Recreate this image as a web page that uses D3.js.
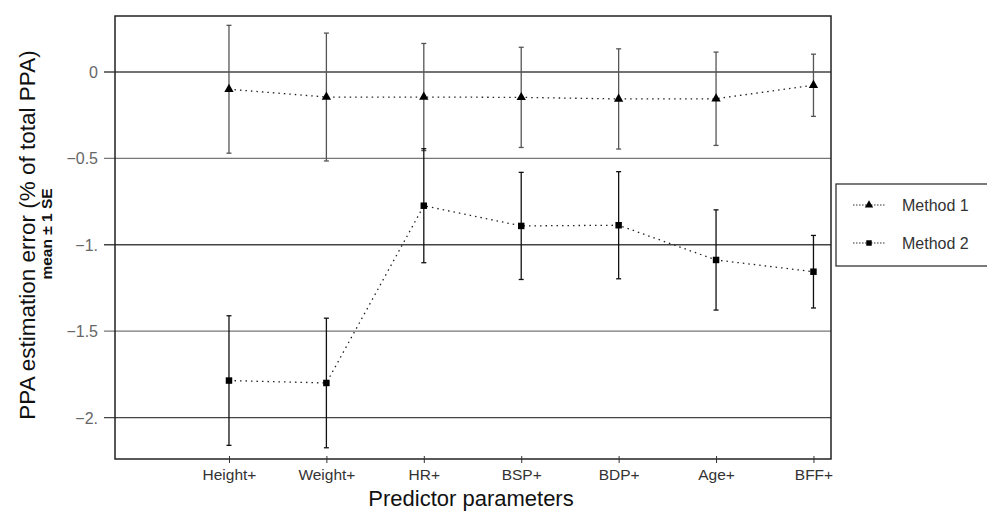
<html lang="en">
<head>
<style>
	body { margin: 0; background: #fff; }
	text { font-family: Arial, "Liberation Sans", sans-serif; }
</style>
</head>
<body>
<svg width="987" height="512"></svg>
<script src="https://d3js.org/d3.v7.min.js"></script>
<script>
	// data
	var categories = ["Height+", "Weight+", "HR+", "BSP+", "BDP+", "Age+", "BFF+"];
	var method1Mean = [-0.10, -0.145, -0.145, -0.147, -0.156, -0.155, -0.077];
	var method1SE   = [0.37, 0.37, 0.31, 0.29, 0.29, 0.27, 0.18];
	var method2Mean = [-1.786, -1.80, -0.774, -0.891, -0.887, -1.088, -1.156];
	var method2SE   = [0.375, 0.375, 0.33, 0.31, 0.31, 0.29, 0.21];
	var yTicks = [0, -0.5, -1, -1.5, -2];
	var yTickLabels = ["0", "\u22120.5", "\u22121.", "\u22121.5", "\u22122."];
	var seriesNames = ["Method 1", "Method 2"];

	var svg = d3.select("svg");
	var plotLeft = 115, plotRight = 831, plotTop = 16, plotBottom = 459;

	var x = d3.scaleLinear().domain([-1.17, 6.18]).range([plotLeft, plotRight]);
	var y = d3.scaleLinear().domain([-2.24, 0.324]).range([plotBottom, plotTop]);

	// gridlines
	svg.selectAll(".grid")
		.data(yTicks)
		.enter().append("line")
		.attr("x1", 104)
		.attr("x2", plotRight)
		.attr("y1", function(d) { return y(d); })
		.attr("y2", function(d) { return y(d); })
		.attr("stroke", function(d, i) { return i % 2 == 0 ? "#444" : "#777"; })
		.attr("stroke-width", 1.3);

	svg.selectAll(".ylab")
		.data(yTicks)
		.enter().append("text")
		.attr("x", 98)
		.attr("y", function(d) { return y(d) + 6; })
		.attr("text-anchor", "end")
		.attr("font-size", "16px")
		.attr("fill", "#666")
		.text(function(d, i) { return yTickLabels[i]; });

	// frame
	svg.append("rect")
		.attr("x", plotLeft).attr("y", plotTop)
		.attr("width", plotRight - plotLeft).attr("height", plotBottom - plotTop)
		.attr("fill", "none")
		.attr("stroke", "#222")
		.attr("stroke-width", 1.5);

	// x axis
	var xAxis = svg.append("g")
		.attr("transform", "translate(0," + plotBottom + ")")
		.call(d3.axisBottom(x)
			.tickValues(d3.range(categories.length))
			.tickFormat(function(i) { return categories[i]; })
			.tickSize(4)
			.tickSizeOuter(0));
	xAxis.select(".domain").remove();
	xAxis.selectAll("line").attr("stroke", "#333").attr("y1", -3);
	xAxis.selectAll("text")
		.attr("font-family", "Arial, 'Liberation Sans', sans-serif")
		.attr("font-size", "15.5px")
		.attr("fill", "#333")
		.attr("y", 21)
		.attr("dy", null);

	// axis titles
	svg.append("text")
		.attr("x", 471).attr("y", 506)
		.attr("text-anchor", "middle")
		.attr("font-size", "22px")
		.attr("fill", "#111")
		.text("Predictor parameters");

	svg.append("text")
		.attr("transform", "translate(35,235) rotate(-90)")
		.attr("text-anchor", "middle")
		.attr("font-size", "22.5px")
		.attr("fill", "#111")
		.text("PPA estimation error (% of total PPA)");

	svg.append("text")
		.attr("transform", "translate(52,234) rotate(-90)")
		.attr("text-anchor", "middle")
		.attr("font-size", "15.5px")
		.attr("font-weight", "bold")
		.attr("fill", "#111")
		.text("mean \u00b1 1 SE");

	var series = [
		{ name: seriesNames[0], mean: method1Mean, se: method1SE, barColor: "#555", shape: d3.symbolTriangle },
		{ name: seriesNames[1], mean: method2Mean, se: method2SE, barColor: "#111", shape: d3.symbolSquare }
	];

	var line = d3.line()
		.x(function(d, i) { return x(i); })
		.y(function(d) { return y(d); });

	series.forEach(function(s) {
		var g = svg.append("g");
		// error bars
		s.mean.forEach(function(m, i) {
			var hi = y(m + s.se[i]), lo = y(m - s.se[i]), cx = x(i);
			g.append("line").attr("x1", cx).attr("x2", cx).attr("y1", hi).attr("y2", lo)
				.attr("stroke", s.barColor).attr("stroke-width", 1.3);
			g.append("line").attr("x1", cx - 2.5).attr("x2", cx + 2.5).attr("y1", hi).attr("y2", hi)
				.attr("stroke", s.barColor).attr("stroke-width", 1.3);
			g.append("line").attr("x1", cx - 2.5).attr("x2", cx + 2.5).attr("y1", lo).attr("y2", lo)
				.attr("stroke", s.barColor).attr("stroke-width", 1.3);
		});
		g.append("path")
			.datum(s.mean)
			.attr("d", line)
			.attr("fill", "none")
			.attr("stroke", "#222")
			.attr("stroke-width", 1.3)
			.attr("stroke-dasharray", "1.5,4");
		g.selectAll(".pt")
			.data(s.mean)
			.enter().append("path")
			.attr("transform", function(d, i) { return "translate(" + x(i) + "," + y(d) + ")"; })
			.attr("d", d3.symbol().type(s.shape).size(s.shape == d3.symbolSquare ? 42 : 38))
			.attr("fill", "#000");
	});

	// legend
	var lg = svg.append("g").attr("transform", "translate(836,184)");
	lg.append("rect")
		.attr("width", 160).attr("height", 82)
		.attr("fill", "#fff").attr("stroke", "#333").attr("stroke-width", 1.3);
	series.forEach(function(s, i) {
		var ly = 21 + i * 38;
		lg.append("line").attr("x1", 17).attr("x2", 49).attr("y1", ly).attr("y2", ly)
			.attr("stroke", "#333").attr("stroke-width", 1).attr("stroke-dasharray", "1.5,1.5");
		lg.append("path")
			.attr("transform", "translate(33," + ly + ")")
			.attr("d", d3.symbol().type(s.shape).size(30))
			.attr("fill", "#000");
		lg.append("text")
			.attr("x", 66).attr("y", ly + 6)
			.attr("font-size", "16px")
			.attr("fill", "#333")
			.text(s.name);
	});
</script>
</body>
</html>
